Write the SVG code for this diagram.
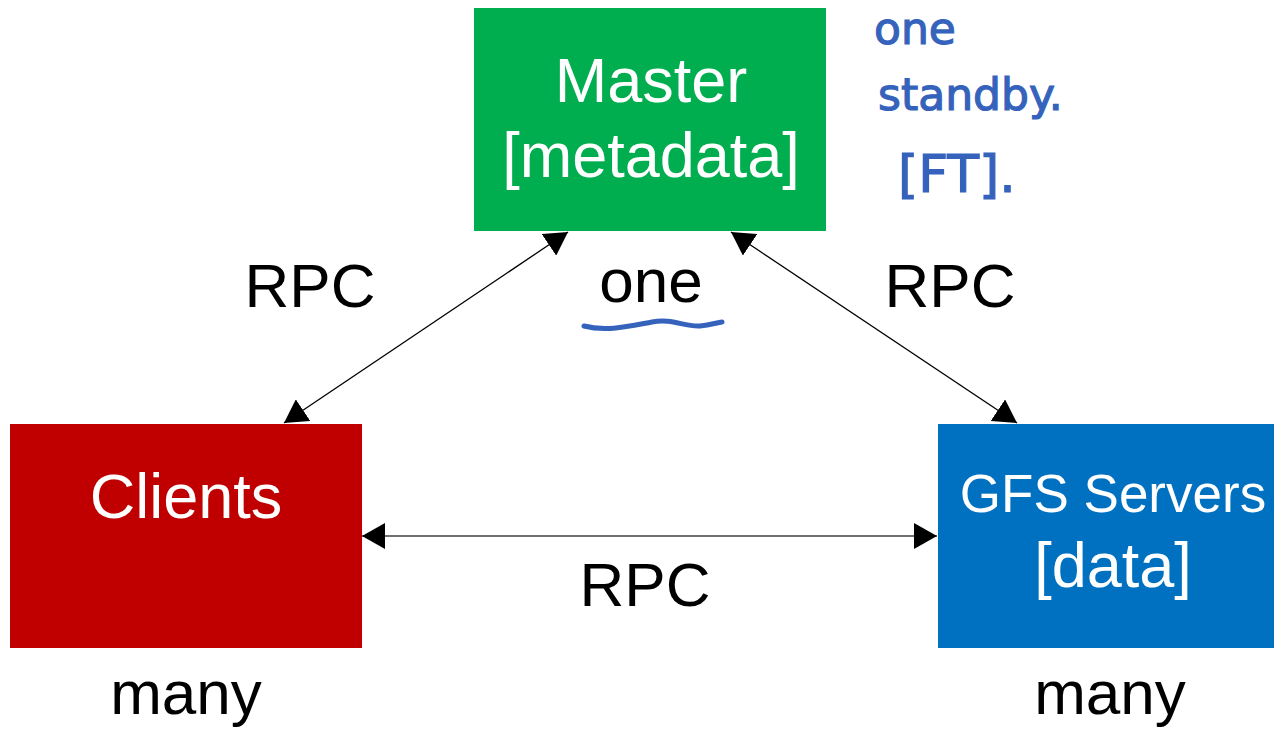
<svg xmlns="http://www.w3.org/2000/svg" width="1274" height="730" viewBox="0 0 1274 730">
<style>
.lbl{font-family:"Liberation Sans",Arial,sans-serif;font-size:62px;fill:#000;text-anchor:middle}
.in{font-family:"Liberation Sans",Arial,sans-serif;font-size:63px;fill:#fff;text-anchor:middle}
.hand{font-family:"DejaVu Sans","Liberation Sans",sans-serif;fill:#3563BC;stroke:#3563BC;stroke-width:1.2;font-size:44px}
.conn{stroke:#000;stroke-width:1.3;fill:none}
</style>
<defs>
<marker id="ah" markerUnits="userSpaceOnUse" markerWidth="23" markerHeight="26" viewBox="0 0 23 26" refX="23" refY="13" orient="auto-start-reverse">
<path d="M0,0 L23,13 L0,26 z" fill="#000"/>
</marker>
</defs>
<rect width="1274" height="730" fill="#fff"/>
<g id="connectors">
<line class="conn" x1="284" y1="423" x2="568" y2="232" marker-start="url(#ah)" marker-end="url(#ah)"/>
<line class="conn" x1="731" y1="232" x2="1017" y2="423" marker-start="url(#ah)" marker-end="url(#ah)"/>
<line class="conn" style="stroke:#404040" x1="362" y1="536" x2="937" y2="536" marker-start="url(#ah)" marker-end="url(#ah)"/>
</g>
<g id="master">
<rect x="474" y="8" width="352" height="223" fill="#00AE4F"/>
<text class="in" x="651" y="102">Master</text>
<text class="in" x="651" y="177">[metadata]</text>
</g>
<g id="clients">
<rect x="10" y="424" width="352" height="224" fill="#C00000"/>
<text class="in" x="186" y="518">Clients</text>
</g>
<g id="servers">
<rect x="938" y="424" width="336" height="224" fill="#0070C0"/>
<text class="in" style="font-size:53px" x="1113" y="512">GFS Servers</text>
<text class="in" x="1113" y="587">[data]</text>
</g>
<g id="labels">
<text class="lbl" x="310" y="307">RPC</text>
<text class="lbl" x="950" y="307">RPC</text>
<text class="lbl" x="645" y="606">RPC</text>
<text class="lbl" x="651" y="302">one</text>
<text class="lbl" x="186" y="714">many</text>
<text class="lbl" x="1110" y="714">many</text>
</g>
<g id="annotation">
<text class="hand" x="874" y="44">one</text>
<text class="hand" x="878" y="110">standby.</text>
<text class="hand" style="font-size:52px" x="898" y="192">[FT].</text>
<path d="M584,326 C606,332 630,326 652,322 C672,318 684,327 700,326 C710,325 716,323 722,322" stroke="#3563BC" stroke-width="5" fill="none" stroke-linecap="round"/>
</g>
</svg>
